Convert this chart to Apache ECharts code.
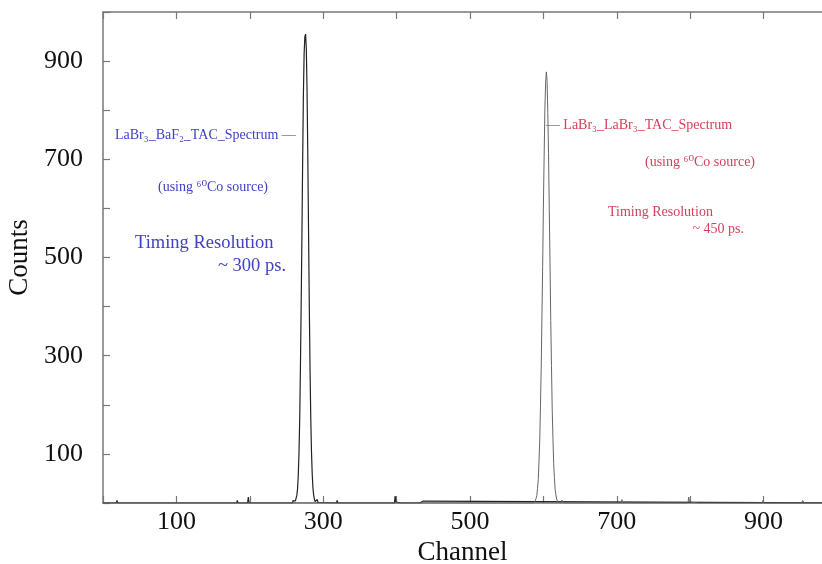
<!DOCTYPE html>
<html>
<head>
<meta charset="utf-8">
<script src="https://cdn.jsdelivr.net/npm/echarts@6.0.0/dist/echarts.min.js"></script>
<style>
  html, body { margin: 0; padding: 0; background: #fff; }
  #chart { width: 822px; height: 564px; }
</style>
</head>
<body>
<div id="chart"></div>
<script>
// TAC spectra, [channel, counts]
var bafPoints = [
    [0,0],[18,0],[19,5],[20,0],[59,0],[60,3],[61,0],[86,0],[87,4],[88,0],
    [115,0],[116,4],[117,0],[168,0],[169,4],[170,0],[182,0],[183,5],[184,0],
    [197,0],[198,12],[199,0],[223,0],[224,3],[225,0],[250,0],[251,4],[252,0],
    [258,0],[259,5],[260,2],[261,3],[262,4],[263,7],[264,15],[265,28],[266,55],
    [267,102],[268,170],[269,280],[270,405],[271,545],[272,695],[273,830],
    [274,915],[275,950],[276,955],[277,925],[278,840],[279,710],[280,560],
    [281,410],[282,280],[283,178],[284,106],[285,60],[286,31],[287,16],
    [288,8],[289,3],[290,0],[291,2],[292,7],[293,1],[294,0],
    [318,0],[319,5],[320,0],[329,0],[330,3],[331,0],[377,0],[378,4],[379,0],
    [397,0],[398,14],[399,2],[400,5],[401,0],[406,0],[407,4],[408,0],
    [432,0],[433,3],[434,0],[436,4],[437,0],[1000,0]
];
var labrPoints = [
    [0,0],[517,0],[518,3],[519,0],[536,0],[537,3],[538,0],[549,0],[550,3],[551,0],
    [563,0],[564,4],[565,0],[577,0],[578,3],[579,0],[585,0],[586,3],[587,0],
    [588,2],[589,5],[590,9],[591,15],[592,30],[593,48],[594,85],[595,126],
    [596,196],[597,272],[598,380],[599,482],[600,605],[601,705],[602,802],
    [603,855],[604,878],[605,860],[606,795],[607,712],[608,598],[609,490],
    [610,372],[611,280],[612,190],[613,132],[614,80],[615,52],[616,27],
    [617,17],[618,8],[619,5],[620,2],[621,0],[624,0],[625,6],[626,2],[627,4],[628,0],
    [656,0],[657,3],[658,0],[706,0],[707,7],[708,0],[722,0],[723,3],[724,0],
    [734,0],[735,3],[736,0],[750,0],[751,4],[752,0],[784,0],[785,4],[786,0],
    [797,0],[798,12],[799,2],[800,3],[801,0],[811,0],[812,4],[813,0],
    [825,0],[826,3],[827,0],[866,0],[867,3],[868,0],[898,0],[899,5],[900,0],
    [915,0],[916,3],[917,0],[952,0],[953,5],[954,3],[955,4],[956,0],
    [966,0],[967,3],[968,0],[1000,0]
];

var serif = '"Liberation Serif", "DejaVu Serif", serif';
var blue = '#4040c4';
var red = '#d6405c';

var chart = echarts.init(document.getElementById('chart'));

function oddHundreds(v) {
    return (v % 200 === 100) ? String(v) : '';
}

var tickStyle = { inside: true, length: 7, lineStyle: { color: '#777', width: 1.2 } };
var axisLineStyle = { color: '#777', width: 1.5 };

var option = {
    animation: false,
    backgroundColor: '#fff',
    grid: {
        left: 103,
        top: 12,
        bottom: 61,
        right: -15,
        containLabel: false,
        outerBoundsMode: 'none'
    },
    xAxis: [
        {
            type: 'value',
            min: 0,
            max: 1000,
            interval: 100,
            position: 'bottom',
            axisLine: { show: true, onZero: false, lineStyle: axisLineStyle },
            axisTick: tickStyle,
            splitLine: { show: false },
            axisLabel: {
                formatter: oddHundreds,
                fontFamily: serif,
                fontSize: 26,
                color: '#111',
                margin: 6
            },
            name: 'Channel',
            nameLocation: 'middle',
            nameGap: 34,
            nameTextStyle: {
                fontFamily: serif,
                fontSize: 27,
                color: '#111',
                padding: [0, 15, 0, 0]
            }
        },
        {
            type: 'value',
            min: 0,
            max: 1000,
            interval: 100,
            position: 'top',
            axisLine: { show: true, onZero: false, lineStyle: axisLineStyle },
            axisTick: tickStyle,
            splitLine: { show: false },
            axisLabel: { show: false }
        }
    ],
    yAxis: [
        {
            type: 'value',
            min: 0,
            max: 1000,
            interval: 100,
            position: 'left',
            axisLine: { show: true, onZero: false, lineStyle: axisLineStyle },
            axisTick: tickStyle,
            splitLine: { show: false },
            axisLabel: {
                formatter: oddHundreds,
                fontFamily: serif,
                fontSize: 26,
                color: '#111',
                margin: 20
            },
            name: 'Counts',
            nameLocation: 'middle',
            nameGap: 62,
            nameTextStyle: {
                fontFamily: serif,
                fontSize: 27,
                color: '#111'
            }
        }
    ],
    series: [
        {
            name: 'LaBr3_BaF2_TAC_Spectrum',
            type: 'line',
            xAxisIndex: 0,
            showSymbol: false,
            lineStyle: { color: '#222', width: 1.2 },
            data: bafPoints
        },
        {
            name: 'LaBr3_LaBr3_TAC_Spectrum',
            type: 'line',
            xAxisIndex: 0,
            showSymbol: false,
            lineStyle: { color: '#666', width: 1 },
            data: labrPoints
        }
    ],
    graphic: [
        {
            type: 'text', x: 115, y: 135,
            style: {
                text: '{t|LaBr₃_BaF₂_TAC_Spectrum} {d|—}',
                verticalAlign: 'middle',
                rich: {
                    t: { fill: blue, fontFamily: serif, fontSize: 14 },
                    d: { fill: '#777', fontFamily: serif, fontSize: 14 }
                }
            }
        },
        {
            type: 'text', x: 158, y: 187,
            style: { text: '(using ⁶⁰Co source)', fill: blue, font: '14px ' + serif, verticalAlign: 'middle' }
        },
        {
            type: 'text', x: 135, y: 243,
            style: { text: 'Timing Resolution', fill: blue, font: '18.5px ' + serif, verticalAlign: 'middle' }
        },
        {
            type: 'text', x: 286, y: 266,
            style: { text: '~ 300 ps.', fill: blue, font: '18.5px ' + serif, align: 'right', verticalAlign: 'middle' }
        },
        {
            type: 'text', x: 546, y: 125,
            style: {
                text: '{d|—} {t|LaBr₃_LaBr₃_TAC_Spectrum}',
                verticalAlign: 'middle',
                rich: {
                    t: { fill: red, fontFamily: serif, fontSize: 14 },
                    d: { fill: '#777', fontFamily: serif, fontSize: 14 }
                }
            }
        },
        {
            type: 'text', x: 645, y: 162,
            style: { text: '(using ⁶⁰Co source)', fill: red, font: '14px ' + serif, verticalAlign: 'middle' }
        },
        {
            type: 'text', x: 608, y: 212,
            style: { text: 'Timing Resolution', fill: red, font: '14px ' + serif, verticalAlign: 'middle' }
        },
        {
            type: 'text', x: 744, y: 229,
            style: { text: '~ 450 ps.', fill: red, font: '14px ' + serif, align: 'right', verticalAlign: 'middle' }
        }
    ]
};

chart.setOption(option);
</script>
</body>
</html>
